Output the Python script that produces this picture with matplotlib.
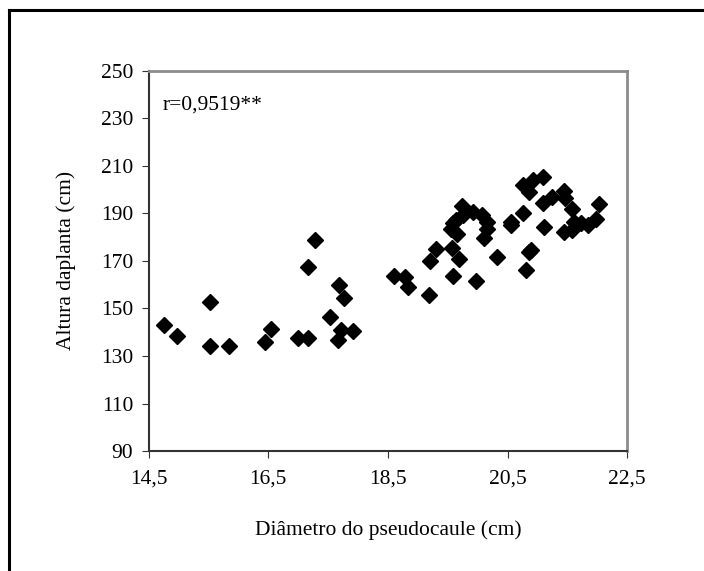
import matplotlib.pyplot as plt
from matplotlib.lines import Line2D
from matplotlib.ticker import FuncFormatter

plt.rcParams['font.family'] = ['Liberation Serif', 'DejaVu Serif']

# diâmetro do pseudocaule (cm)
diametro = [14.75, 14.97, 15.53, 15.53, 15.84, 16.44, 16.54, 17.00, 17.17, 17.17,
            17.29, 17.53, 17.66, 17.69, 17.76, 17.72, 17.91,
            18.61, 18.78, 18.83, 19.18, 19.20, 19.30, 19.57, 19.68, 19.58,
            19.98, 20.32, 19.74, 19.93, 20.08, 20.15, 20.15, 20.11, 19.64,
            19.59, 19.56, 19.65, 19.76,
            21.09, 20.92, 20.76, 20.86, 21.24, 21.45, 21.46, 21.09, 22.02,
            20.76, 21.58, 20.56, 20.56, 21.11, 21.45, 21.58, 21.61, 21.73,
            21.84, 21.97, 20.89, 20.86, 20.80]
# altura da planta (cm)
altura = [143.2, 138.3, 152.5, 134.3, 134.3, 135.9, 141.5, 137.6, 137.6, 167.6,
          178.6, 146.2, 136.6, 159.8, 154.2, 140.9, 140.5,
          163.5, 163.3, 158.8, 155.6, 170.0, 174.8, 175.4, 170.6, 163.6,
          161.3, 171.7, 193.0, 190.6, 189.2, 186.4, 183.2, 179.4, 187.1,
          185.7, 183.2, 181.2, 189.2,
          205.4, 204.0, 201.9, 199.1, 197.0, 199.5, 196.3, 194.4, 193.9,
          190.0, 191.6, 186.4, 185.0, 184.1, 182.2, 182.9, 186.4, 185.7,
          185.0, 187.4, 174.5, 173.5, 166.1]

xticks = [14.5, 16.5, 18.5, 20.5, 22.5]
yticks = [90, 110, 130, 150, 170, 190, 210, 230, 250]

fs = 15.5

fig = plt.figure(figsize=(7.04, 5.71), dpi=100)
ax = fig.add_axes([0.211, 0.210, 0.680, 0.6665])

ax.plot(diametro, altura, 'D', color='black', markersize=8.5, linestyle='none')

ax.set_xlim(14.5, 22.5)
ax.set_ylim(90, 250)
ax.set_xticks(xticks)
ax.set_yticks(yticks)
ax.xaxis.set_major_formatter(FuncFormatter(lambda v, p: f'{v:.1f}'.replace('.', ',')))
ax.tick_params(axis='both', direction='out', labelsize=fs, color='#333333')
ax.tick_params(axis='y', length=5, pad=6)
ax.tick_params(axis='x', length=5, pad=8)

for s in ['left', 'bottom']:
    ax.spines[s].set_color('#333333')
    ax.spines[s].set_linewidth(1.5)
for s in ['top', 'right']:
    ax.spines[s].set_color('#8c8c8c')
    ax.spines[s].set_linewidth(2)

ax.set_xlabel('Diâmetro do pseudocaule (cm)', fontsize=fs)
ax.set_ylabel('Altura daplanta (cm)', fontsize=fs)
ax.xaxis.set_label_coords(0.5, -0.181)
ax.yaxis.set_label_coords(-0.151, 0.5)

ax.text(0.03, 0.91, 'r=0,9519**', transform=ax.transAxes, fontsize=fs,
        va='center', ha='left')

# moldura externa (só esquerda e topo)
fig.add_artist(Line2D([0.0121, 0.0121], [0, 0.9825], color='black', linewidth=2.2,
                      transform=fig.transFigure))
fig.add_artist(Line2D([0.0121, 1], [0.9825, 0.9825], color='black', linewidth=2.2,
                      transform=fig.transFigure))

fig.savefig('out.png', dpi=100)
